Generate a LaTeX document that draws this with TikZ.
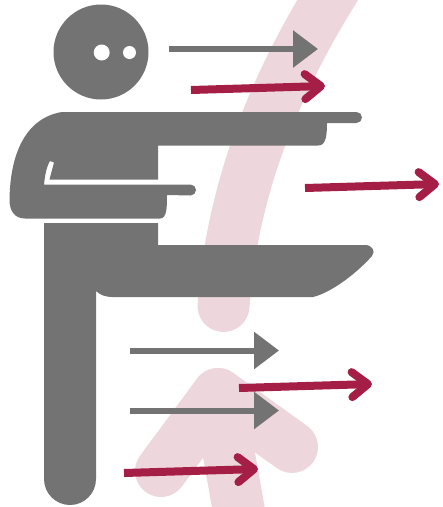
\documentclass[tikz,border=0pt]{standalone}
\usepackage{xcolor}
\usetikzlibrary{arrows.meta}
\definecolor{figgray}{HTML}{737373}
\definecolor{flowred}{HTML}{A51E46}
\definecolor{bandpink}{HTML}{EED6DD}

\begin{document}
\begin{tikzpicture}[
    x=1pt, y=-1pt,
    band/.style={draw=bandpink, line width=52pt, line cap=round, line join=round},
    figure/.style={fill=figgray},
    eye/.style={fill=white},
    flowgray/.style={draw=figgray, line width=6pt, -{Triangle[length=25pt, width=36pt]}},
    flowcrimson/.style={draw=flowred, line width=8pt, -{Straight Barb[length=16pt, width=25pt, round]}},
]
\useasboundingbox (0,0) rectangle (443,507);

% Background bands
\begin{scope}
\clip (0,0) rectangle (443,507);
\draw[band] (335,-12) .. controls (274,85) and (232,190) .. (223.5,306);
\draw[band] (161,471) -- (218,394) -- (292,447);
\draw[band] (218,394) .. controls (226,440) and (234,480) .. (242,530);
\end{scope}

% Head
\fill[figure] (101,52) circle (47.5);
\fill[eye] (101.7,52.5) circle (8);
\fill[eye] (129.5,52.5) circle (6.5);

% Upper body with both arms
\fill[figure] (62,112) -- (356.5,112) arc (-90:90:5.5) -- (327,123)
    .. controls (327,135) and (326,146) .. (318,145.5) -- (158,145.5) -- (158,179.5)
    -- (49.5,179.5) -- (54,162.5) -- (50,161) .. controls (46,168) and (45,176) .. (44,184.5)
    -- (190.5,184.5) arc (-90:90:5.5) -- (167,195)
    .. controls (167,207) and (167,218.5) .. (160,218.5) -- (25,218.5)
    .. controls (14,218.5) and (9.5,210) .. (9.5,200)
    .. controls (10,155) and (25,118) .. (62,112) -- cycle;

% Lower body and legs
\fill[figure] (44,223) -- (158,223) -- (158,245) -- (365,245)
    .. controls (372,245) and (376,251) .. (372,256)
    .. controls (355,275) and (330,293) .. (313,297) -- (112,297)
    .. controls (106,297) and (100,295) .. (96,291) -- (96,479)
    arc (0:180:26) -- cycle;

% Gray flows
\coordinate (gray1a) at (169,49);
\coordinate (gray1b) at (318,49);
\coordinate (gray2a) at (130,350.5);
\coordinate (gray2b) at (279,350.5);
\coordinate (gray3a) at (130,410.5);
\coordinate (gray3b) at (279,410.5);
\draw[flowgray] (gray1a) -- (gray1b);
\draw[flowgray] (gray2a) -- (gray2b);
\draw[flowgray] (gray3a) -- (gray3b);

% Red flows
\coordinate (red1a) at (191,90);
\coordinate (red1b) at (325,86);
\coordinate (red2a) at (305,188);
\coordinate (red2b) at (439,184);
\coordinate (red3a) at (239,388);
\coordinate (red3b) at (372,384);
\coordinate (red4a) at (124,473);
\coordinate (red4b) at (258,469);
\draw[flowcrimson] (red1a) -- (red1b);
\draw[flowcrimson] (red2a) -- (red2b);
\draw[flowcrimson] (red3a) -- (red3b);
\draw[flowcrimson] (red4a) -- (red4b);

\end{tikzpicture}
\end{document}
